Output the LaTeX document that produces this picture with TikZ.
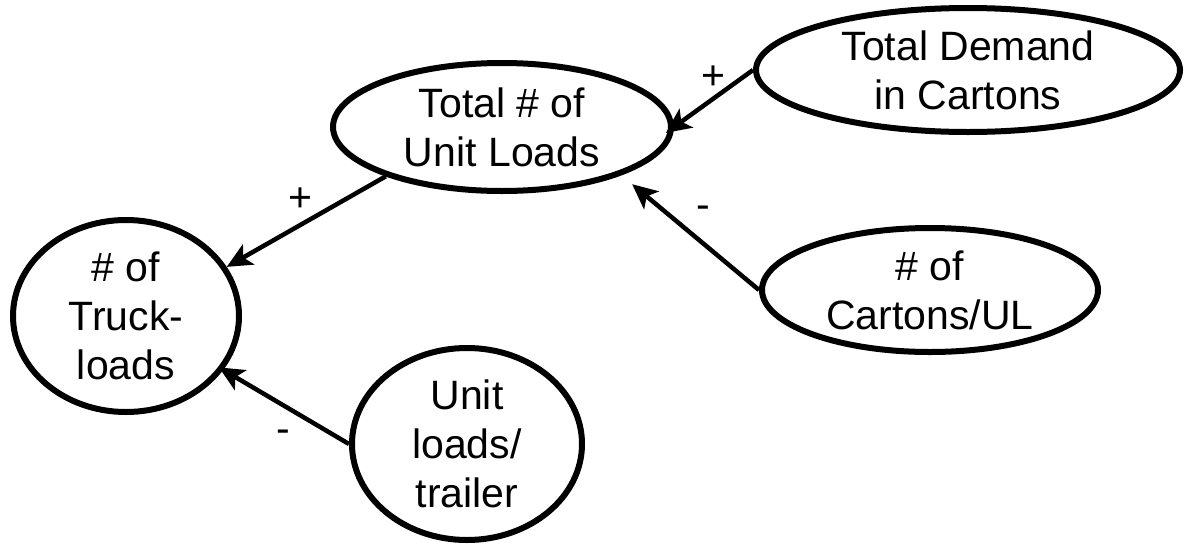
\documentclass[tikz,border=0pt]{standalone}
\usepackage{fontspec}
\setmainfont{Liberation Sans}
\usetikzlibrary{arrows.meta,shapes.geometric}
\begin{document}
\begin{tikzpicture}[x=1pt,y=-1pt,
  var/.style={ellipse,draw,line width=6pt,inner sep=0pt,align=center,
    font=\fontsize{41}{49}\selectfont},
  link/.style={line width=4.5pt,-{Stealth[length=25pt,width=23pt,inset=6pt]}},
  sign/.style={font=\fontsize{41}{49}\selectfont,inner sep=0pt}]
\useasboundingbox (0,0) rectangle (1196,544);
\node[var,minimum width=338pt,minimum height=128pt] (UL) at (502,127) {Total \# of\\Unit Loads};
\node[var,minimum width=424pt,minimum height=124pt] (TD) at (968,70) {Total Demand\\in Cartons};
\node[var,minimum width=226pt,minimum height=192pt] (TL) at (126,316) {\# of\\Truck-\\loads};
\node[var,minimum width=336pt,minimum height=124pt] (CU) at (930,290) {\# of\\Cartons/UL};
\node[var,minimum width=230pt,minimum height=192pt] (ULT) at (467,444) {Unit\\loads/\\trailer};
\draw[link,shorten >=-10pt] (TD.west) -- (UL.east);
\draw[link,shorten >=14pt] (CU.west) -- (UL.-22);
\draw[link] (UL.203) -- (TL.26);
\draw[link,shorten >=-5pt] (ULT.west) -- (TL.-29);
\node[sign] (s1) at (713,78) {+};
\node[sign] (s2) at (703,212) {-};
\node[sign] (s3) at (300,200) {+};
\node[sign] (s4) at (283,436) {-};
\end{tikzpicture}
\end{document}
